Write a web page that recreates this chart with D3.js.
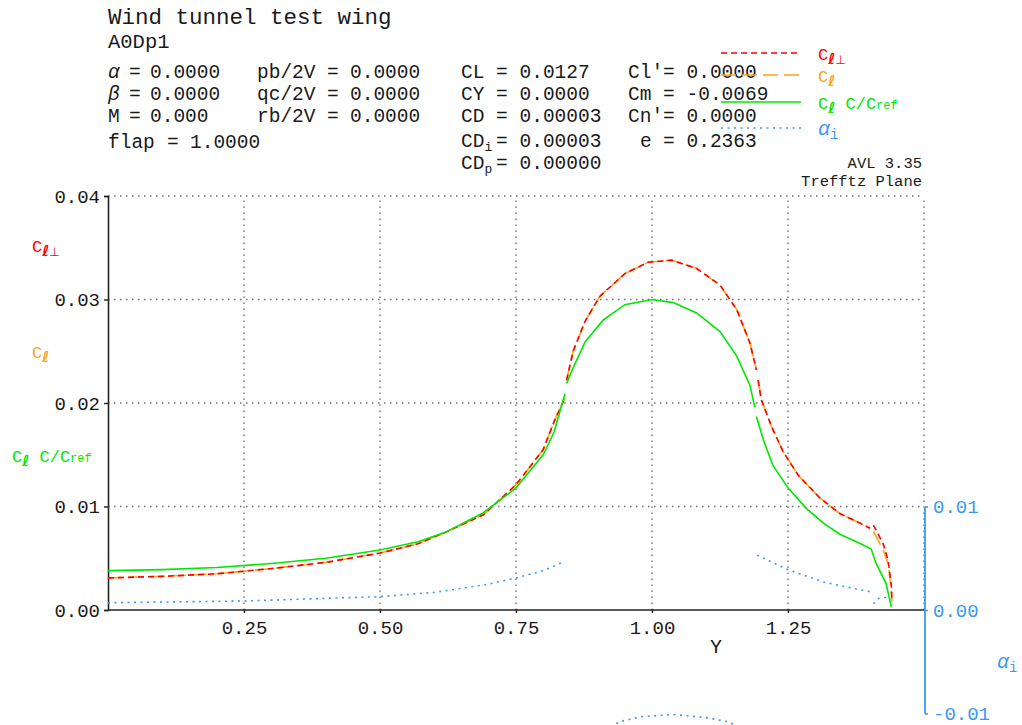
<!DOCTYPE html>
<html><head><meta charset="utf-8">
<script src="https://cdn.jsdelivr.net/npm/d3@7"></script>
<style>
body{margin:0;background:#fff}
svg{display:block;background:#fff}
text{font-family:"Liberation Mono","DejaVu Sans Mono",monospace;fill:#1a1a1a}
</style>
</head><body>
<svg id="chart" width="1022" height="725"></svg>
<script>
// ---------------- data ----------------
const titleText = "Wind tunnel test wing";
const configName = "A0Dp1";
const col1Labels = ["α", "β", "M", "flap"];
const col1Values = ["0.0000", "0.0000", "0.000", "1.0000"];
const col2Labels = ["pb/2V", "qc/2V", "rb/2V"];
const col2Values = ["0.0000", "0.0000", "0.0000"];
const col3Labels = ["CL", "CY", "CD", "CD|i", "CD|p"];
const col3Values = ["0.0127", "0.0000", "0.00003", "0.00003", "0.00000"];
const col4Labels = ["Cl′", "Cm", "Cn′", "e"];
const col4Values = ["0.0000", "-0.0069", "0.0000", "0.2363"];
const versionLines = ["AVL 3.35", "Trefftz Plane"];

const yTicks = [0, 0.01, 0.02, 0.03, 0.04];
const yTickLabels = ["0.00", "0.01", "0.02", "0.03", "0.04"];
const xTicks = [0.25, 0.5, 0.75, 1.0, 1.25];
const xTickLabels = ["0.25", "0.50", "0.75", "1.00", "1.25"];
const xGrid = [0.25, 0.5, 0.75, 1.0, 1.25, 1.5];
const alphaTicks = [-0.01, 0, 0.01];
const alphaTickLabels = ["-0.01", "0.00", "0.01"];

// c_l perpendicular (red), per surface segment: [Y, value]
const clPerpSeg1 = [[0,0.00310],[0.10,0.00325],[0.20,0.00350],[0.30,0.00400],[0.40,0.00460],[0.50,0.00550],[0.57,0.00640],[0.62,0.00750],[0.69,0.00920],[0.75,0.01210],[0.80,0.01550],[0.82,0.01820],[0.84,0.02050]];
const clPerpSeg2 = [[0.843,0.0222],[0.855,0.0250],[0.877,0.0279],[0.904,0.0303],[0.950,0.0325],[0.993,0.0336],[1.036,0.0338],[1.082,0.0330],[1.125,0.0314],[1.156,0.0290],[1.180,0.0258],[1.192,0.0232]];
const clPerpSeg3 = [[1.195,0.0222],[1.201,0.0203],[1.220,0.0177],[1.241,0.0153],[1.269,0.0130],[1.309,0.0108],[1.346,0.0093],[1.382,0.0084],[1.401,0.0079]];
const clPerpSeg4 = [[1.407,0.0082],[1.425,0.0064],[1.434,0.0048],[1.440,0.0023],[1.441,0.0008]];

// c_l (orange)
const clSeg1 = [[0,0.00310],[0.10,0.00325],[0.20,0.00350],[0.30,0.00400],[0.40,0.00460],[0.50,0.00550],[0.57,0.00640],[0.62,0.00750],[0.69,0.00920],[0.75,0.01210],[0.80,0.01550],[0.82,0.01820],[0.84,0.02050]];
const clSeg2 = [[0.843,0.0222],[0.855,0.0250],[0.877,0.0279],[0.904,0.0303],[0.950,0.0325],[0.993,0.0336],[1.036,0.0338],[1.082,0.0330],[1.125,0.0314],[1.156,0.0290],[1.180,0.0258],[1.192,0.0232]];
const clSeg3 = [[1.195,0.0222],[1.201,0.0203],[1.220,0.0177],[1.241,0.0153],[1.269,0.0130],[1.309,0.0108],[1.346,0.0093],[1.382,0.0084],[1.401,0.0079]];
const clSeg4 = [[1.407,0.0076],[1.425,0.0058],[1.434,0.0045],[1.440,0.0020],[1.441,0.0008]];

// c_l c/cref (green)
const clcSeg1 = [[0,0.0038],[0.10,0.0039],[0.20,0.0041],[0.30,0.0045],[0.40,0.0050],[0.50,0.0058],[0.57,0.0066],[0.62,0.0075],[0.69,0.0094],[0.75,0.0118],[0.80,0.0150],[0.82,0.0172],[0.84,0.0209]];
const clcSeg2 = [[0.843,0.0219],[0.855,0.0234],[0.877,0.0259],[0.910,0.0280],[0.950,0.0295],[1.000,0.0300],[1.039,0.0297],[1.082,0.0287],[1.125,0.0269],[1.156,0.0245],[1.180,0.0217],[1.189,0.0196]];
const clcSeg3 = [[1.192,0.0187],[1.205,0.0164],[1.222,0.0140],[1.250,0.0118],[1.284,0.0098],[1.315,0.0084],[1.346,0.0073],[1.376,0.0066],[1.403,0.0059]];
const clcSeg4 = [[1.403,0.0059],[1.412,0.0045],[1.430,0.0026],[1.440,0.0003]];

// alpha_i (blue)
const aiSeg1 = [[0,0.0007],[0.25,0.00087],[0.50,0.00129],[0.60,0.0017],[0.70,0.0025],[0.75,0.0031],[0.80,0.0038],[0.84,0.0047]];
const aiSeg2 = [[0.843,-0.0200],[0.86,-0.0155],[0.90,-0.0122],[0.94,-0.0108],[0.98,-0.0103],[1.04,-0.0101],[1.10,-0.0104],[1.14,-0.0108],[1.17,-0.0116],[1.19,-0.0128]];
const aiSeg3 = [[1.193,0.0053],[1.25,0.0039],[1.315,0.0027],[1.36,0.0022],[1.407,0.0017]];
const aiSeg4 = [[1.407,0.0006],[1.416,0.0011],[1.430,0.0012],[1.440,0.0011]];

// ---------------- drawing ----------------
const RED = "#ff0000", ORANGE = "#ffa31a", GREEN = "#00e800", BLUE = "#3b98f2";
const svg = d3.select("#chart");

const x = d3.scaleLinear().domain([0, 1.5]).range([108, 924]);
const y = d3.scaleLinear().domain([0, 0.04]).range([610, 196]);
const ya = d3.scaleLinear().domain([-0.01, 0.01]).range([713.5, 506.5]);

// grid
const grid = svg.append("g").attr("stroke", "#707070").attr("stroke-width", 1.3).attr("stroke-dasharray", "1.5,4.5");
grid.selectAll("line.h").data(yTicks.filter(d => d > 0)).join("line")
  .attr("x1", x(0)).attr("x2", x(1.5)).attr("y1", d => y(d)).attr("y2", d => y(d));
grid.selectAll("line.v").data(xGrid).join("line")
  .attr("x1", d => x(d)).attr("x2", d => x(d)).attr("y1", y(0)).attr("y2", y(0.04));

// left axis
const yAxis = d3.axisLeft(y).tickValues(yTicks).tickFormat((d, i) => yTickLabels[i]).tickSize(4).tickPadding(4);
const gy = svg.append("g").attr("transform", `translate(${x(0)},0)`).call(yAxis);
gy.select(".domain").attr("stroke", "#222").attr("stroke-width", 1.6);
gy.selectAll(".tick line").attr("stroke", "#222").attr("stroke-width", 1.4);
gy.selectAll(".tick text").attr("font-family", "Liberation Mono").attr("font-size", 19);

// bottom axis
const xAxis = d3.axisBottom(x).tickValues(xTicks).tickFormat((d, i) => xTickLabels[i]).tickSize(3).tickPadding(8);
const gx = svg.append("g").attr("transform", `translate(0,${y(0)})`).call(xAxis);
gx.select(".domain").attr("d", `M${x(0)},0H${x(1.5)}`).attr("stroke", "#222").attr("stroke-width", 1.6);
gx.selectAll(".tick line").attr("stroke", "#222").attr("stroke-width", 1.4);
gx.selectAll(".tick text").attr("font-family", "Liberation Mono").attr("font-size", 19);
svg.append("text").attr("x", 716).attr("y", 653).attr("text-anchor", "middle").attr("font-size", 20).text("Y");

// right alpha axis
const aAxis = d3.axisRight(ya).tickValues(alphaTicks).tickFormat((d, i) => alphaTickLabels[i]).tickSize(3).tickPadding(5);
const ga = svg.append("g").attr("transform", `translate(${x(1.5) + 1},0)`).call(aAxis);
ga.select(".domain").attr("d", `M0,${ya(-0.01)}V${ya(0.01)}`).attr("stroke", BLUE).attr("stroke-width", 1.8);
ga.selectAll(".tick line").attr("stroke", BLUE).attr("stroke-width", 1.6);
ga.selectAll(".tick text").attr("font-family", "Liberation Mono").attr("font-size", 19).style("fill", BLUE);

// series
const line = d3.line().x(d => x(d[0])).y(d => y(d[1]));
const aline = d3.line().x(d => x(d[0])).y(d => ya(d[1]));
const series = [
  {segs: [clSeg1, clSeg2, clSeg3, clSeg4], color: ORANGE, dash: "15,6", gen: line},
  {segs: [clPerpSeg1, clPerpSeg2, clPerpSeg3, clPerpSeg4], color: RED, dash: "6,4", gen: line},
  {segs: [clcSeg1, clcSeg2, clcSeg3, clcSeg4], color: GREEN, dash: null, gen: line},
  {segs: [aiSeg1, aiSeg2, aiSeg3, aiSeg4], color: BLUE, dash: "2,4.5", gen: aline}
];
series.forEach(s => {
  svg.append("g").selectAll("path").data(s.segs).join("path")
    .attr("d", s.gen).attr("fill", "none").attr("stroke", s.color)
    .attr("stroke-width", 1.6).attr("stroke-dasharray", s.dash);
});

// ---------------- header text ----------------
svg.append("text").attr("x", 108).attr("y", 24).attr("font-size", 22.5).text(titleText);
svg.append("text").attr("x", 108).attr("y", 48).attr("font-size", 20.5).text(configName);

const FS = 19.5;
function labelText(g, lab, xx, yy) {
  const t = g.append("text").attr("x", xx).attr("y", yy).attr("font-size", FS);
  const parts = lab.split("|");
  const main = t.append("tspan").text(parts[0]);
  if (parts[0] === "α" || parts[0] === "β") main.attr("font-style", "italic");
  if (parts[1]) t.append("tspan").attr("font-size", 13).attr("dy", 4).text(parts[1]);
}
function entry(lab, val, lx, ex, vx, yy) {
  const g = svg.append("g");
  labelText(g, lab, lx, yy);
  g.append("text").attr("x", ex).attr("y", yy).attr("font-size", FS).text("=");
  g.append("text").attr("x", vx).attr("y", yy).attr("font-size", FS).text(val);
}
const rowY = [78, 100, 122];
col1Labels.forEach((l, i) => {
  if (l === "flap") entry(l, col1Values[i], 108, 167, 190, 148);
  else entry(l, col1Values[i], 108, 129, 150, rowY[i]);
});
col2Labels.forEach((l, i) => entry(l, col2Values[i], 257, 327, 350, rowY[i]));
const col3Y = [78, 100, 122, 147, 169];
col3Labels.forEach((l, i) => entry(l, col3Values[i], 461, 496, 519.5, col3Y[i]));
col4Labels.forEach((l, i) => {
  const lx = l === "e" ? 640 : 628;
  entry(l, col4Values[i], lx, 663, 686.5, [78, 100, 122, 147][i]);
});
svg.append("text").attr("x", 922).attr("y", 168).attr("text-anchor", "end").attr("font-size", 15.5).text(versionLines[0]);
svg.append("text").attr("x", 922).attr("y", 186).attr("text-anchor", "end").attr("font-size", 15.5).text(versionLines[1]);

// ---------------- legend & axis labels ----------------
function clLabel(xx, yy, color, kind) {
  const t = svg.append("text").attr("x", xx).attr("y", yy).style("fill", color).attr("font-size", 17);
  if (kind === "alpha") {
    t.append("tspan").attr("font-style", "italic").attr("font-size", 20).text("α");
    t.append("tspan").attr("font-size", 14).attr("dy", 4).text("i");
    return;
  }
  t.append("tspan").text("C");
  t.append("tspan").attr("font-family", "DejaVu Sans").attr("font-weight", "bold").attr("font-size", 15).attr("dy", 4).text("ℓ");
  if (kind === "perp") t.append("tspan").attr("font-family", "DejaVu Sans").attr("font-size", 12).attr("dy", 0).text("⊥");
  if (kind === "cref") {
    t.append("tspan").attr("dy", -4).text(" C/C");
    t.append("tspan").attr("font-size", 12).text("ref");
  }
}
const legendItems = [
  {color: RED, dash: "6,4", kind: "perp", y: 53},
  {color: ORANGE, dash: "15,6", kind: "cl", y: 75},
  {color: GREEN, dash: null, kind: "cref", y: 102},
  {color: BLUE, dash: "2,4.5", kind: "alpha", y: 128}
];
legendItems.forEach(it => {
  svg.append("line").attr("x1", 721).attr("x2", 801).attr("y1", it.y).attr("y2", it.y)
    .attr("stroke", it.color).attr("stroke-width", 1.6).attr("stroke-dasharray", it.dash);
  clLabel(818, it.y + 7, it.color, it.kind);
});
clLabel(32, 252, RED, "perp");
clLabel(32, 358, ORANGE, "cl");
clLabel(12, 462, GREEN, "cref");
clLabel(997, 668, BLUE, "alpha");
</script>
</body></html>
